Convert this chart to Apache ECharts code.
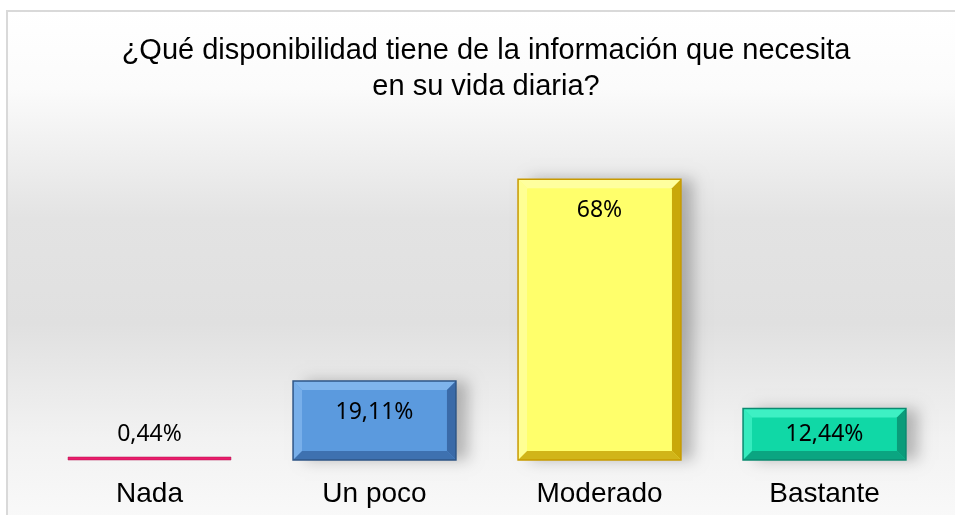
<!DOCTYPE html>
<html><head><meta charset="utf-8">
<script src="https://cdn.jsdelivr.net/npm/echarts@6/dist/echarts.min.js"></script>
<style>html,body{margin:0;padding:0;background:#fff}#c{width:955px;height:515px}</style>
</head><body><div id="c"></div>
<script>
const titleText = '¿Qué disponibilidad tiene de la información que necesita\nen su vida diaria?';
const categories = ['Nada', 'Un poco', 'Moderado', 'Bastante'];
const values = [0.44, 19.11, 68, 12.44];
const valueLabels = ['0,44%', '19,11%', '68%', '12,44%'];

const fills = ['#ea1d6c', '#5b9ade', '#ffff6b', '#10d8a6'];
const lights = ['#f45a92', '#7fb4ec', '#ffff9e', '#3ef0c4'];
const darks = ['#b0104c', '#3a6aa8', '#c9a80a', '#0a9c7a'];
const borders = ['#a00c44', '#2f5687', '#c89a00', '#0b8a70'];

const chart = echarts.init(document.getElementById('c'));
chart.setOption({
  animation: false,
  backgroundColor: '#ffffff',
  graphic: [{
    type: 'rect', z: -10, silent: true,
    shape: { x: 7, y: 11, width: 960, height: 520 },
    style: {
      fill: new echarts.graphic.LinearGradient(0, 0, 0, 1, [
        { offset: 0, color: '#ffffff' },
        { offset: 0.15, color: '#fbfbfb' },
        { offset: 0.4, color: '#e3e3e3' },
        { offset: 0.6, color: '#e0e0e0' },
        { offset: 0.82, color: '#f2f2f2' },
        { offset: 1, color: '#fafafa' }
      ]),
      stroke: '#d9d9d9', lineWidth: 2
    }
  }],
  title: {
    text: titleText,
    left: 481, top: 28, textAlign: 'center',
    textStyle: { fontFamily: 'Liberation Sans', fontSize: 29, fontWeight: 'normal', color: '#000', lineHeight: 36 }
  },
  grid: { left: 37, right: 18, top: 47, bottom: 55 },
  xAxis: {
    type: 'category', data: categories,
    axisLine: { show: false }, axisTick: { show: false },
    axisLabel: { fontFamily: 'Liberation Sans', fontSize: 28, color: '#000', margin: 20 }
  },
  yAxis: { type: 'value', min: 0, max: 100, show: false, splitLine: { show: false } },
  series: [{
    type: 'custom',
    data: values.map((v, i) => [i, v]),
    renderItem: function (params, api) {
      const i = api.value(0);
      const top = api.coord([i, api.value(1)]);
      const base = api.coord([i, 0]);
      const w = api.size([1, 0])[0] * 0.724;
      const x = top[0] - w / 2;
      let h = base[1] - top[1];
      let y = top[1];
      const children = [];
      const font = '23px "Noto Sans"';
      if (h < 4) {
        h = 3; y = base[1] - 3;
        children.push({ type: 'rect', shape: { x: x, y: y, width: w, height: h }, style: { fill: fills[i], stroke: darks[i], lineWidth: 0.5 } });
        children.push({ type: 'text', style: { text: valueLabels[i], x: top[0], y: y - 23, align: 'center', verticalAlign: 'middle', font: font, fill: '#000' } });
      } else {
        const b = Math.min(9, h / 2);
        children.push({ type: 'rect', shape: { x: x, y: y, width: w, height: h }, style: { fill: fills[i], shadowBlur: 14, shadowColor: 'rgba(0,0,0,0.25)', shadowOffsetX: 12, shadowOffsetY: 0 } });
        children.push({ type: 'polygon', shape: { points: [[x, y], [x + w, y], [x + w - b, y + b], [x + b, y + b]] }, style: { fill: lights[i] } });
        children.push({ type: 'polygon', shape: { points: [[x, y], [x + b, y + b], [x + b, y + h - b], [x, y + h]] }, style: { fill: lights[i], opacity: 0.8 } });
        children.push({ type: 'polygon', shape: { points: [[x + w, y], [x + w, y + h], [x + w - b, y + h - b], [x + w - b, y + b]] }, style: { fill: darks[i] } });
        children.push({ type: 'polygon', shape: { points: [[x, y + h], [x + w, y + h], [x + w - b, y + h - b], [x + b, y + h - b]] }, style: { fill: darks[i], opacity: 0.85 } });
        children.push({ type: 'rect', shape: { x: x, y: y, width: w, height: h }, style: { fill: 'none', stroke: borders[i], lineWidth: 1.5 } });
        const ly = Math.min(y + 31, y + h / 2);
        children.push({ type: 'text', style: { text: valueLabels[i], x: top[0], y: ly, align: 'center', verticalAlign: 'middle', font: font, fill: '#000' } });
      }
      return { type: 'group', children: children };
    }
  }]
});
</script>
</body></html>
